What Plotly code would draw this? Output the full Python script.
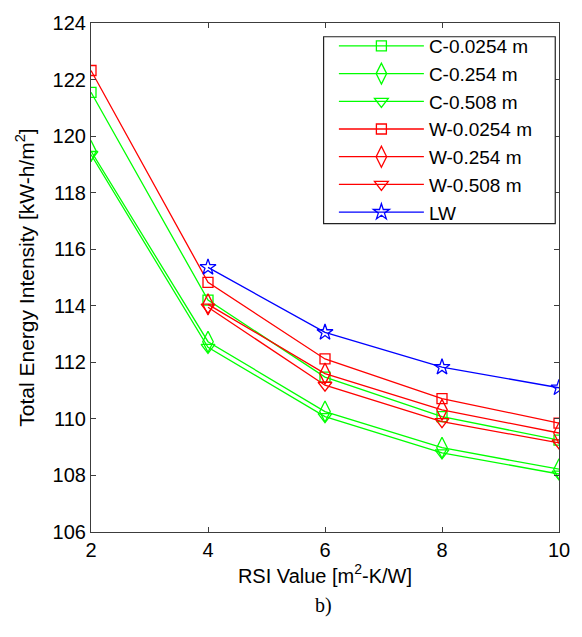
import plotly.graph_objects as go

# RSI values (x) and total energy intensity for each configuration
rsi_all = [2, 4, 6, 8, 10]
rsi_w = [4, 6, 8, 10]

c_0254 = [121.55, 114.2, 111.48, 110.08, 109.25]
c_254 = [119.47, 112.73, 110.26, 108.98, 108.22]
c_508 = [119.35, 112.53, 110.08, 108.8, 108.05]
w_0254 = [122.32, 114.83, 112.12, 110.72, 109.85]
w_254 = [114.05, 111.6, 110.32, 109.5]
w_508 = [113.95, 111.19, 109.9, 109.15]
lw = [115.36, 113.06, 111.83, 111.1]

GREEN = "#00ff00"
RED = "#ff0000"
BLUE = "#0000ff"

series = [
    ("C-0.0254 m", rsi_all, c_0254, GREEN, "square-open", 10),
    ("C-0.254 m", rsi_all, c_254, GREEN, "diamond-tall-open", 15),
    ("C-0.508 m", rsi_all, c_508, GREEN, "triangle-down-open", 12),
    ("W-0.0254 m", rsi_all, w_0254, RED, "square-open", 10),
    ("W-0.254 m", rsi_w, w_254, RED, "diamond-tall-open", 15),
    ("W-0.508 m", rsi_w, w_508, RED, "triangle-down-open", 12),
    ("LW", rsi_w, lw, BLUE, "star-open", 12),
]

fig = go.Figure()
for name, xs, ys, color, symbol, size in series:
    fig.add_trace(go.Scatter(
        x=xs, y=ys, name=name, mode="lines+markers",
        line=dict(color=color, width=1.3),
        marker=dict(symbol=symbol, size=size, color=color,
                    line=dict(color=color, width=1.3)),
    ))

FONT = "Liberation Sans, Arial"
axis_common = dict(
    showgrid=False, zeroline=False, showline=True, linecolor="#3c3c3c",
    linewidth=1.2, mirror="ticks", ticks="inside", ticklen=5,
    tickcolor="#3c3c3c", tickfont=dict(family=FONT, size=20, color="black"),
)

fig.update_xaxes(range=[2, 10], tickvals=[2, 4, 6, 8, 10],
                 title=dict(text="RSI Value [m<sup>2</sup>-K/W]", standoff=8,
                            font=dict(family=FONT, size=20, color="black")),
                 **axis_common)
fig.update_yaxes(range=[106, 124], tickvals=list(range(106, 125, 2)),
                 title=dict(text="Total Energy Intensity [kW-h/m<sup>2</sup>]", standoff=12,
                            font=dict(family=FONT, size=21, color="black")),
                 **axis_common)

fig.add_annotation(text="b)", xref="paper", yref="paper", x=0.497, y=-0.144,
                   xanchor="center", yanchor="middle", showarrow=False,
                   font=dict(family="Liberation Serif, Times New Roman", size=20, color="black"))

# legend frame
fig.add_shape(type="rect", xref="paper", yref="paper",
              x0=0.497, x1=0.992, y0=0.606, y1=0.973,
              line=dict(color="#222222", width=1.2), fillcolor="white", layer="above")

fig.update_layout(
    width=582, height=637,
    margin=dict(l=91, r=14, t=17, b=105),
    paper_bgcolor="white", plot_bgcolor="white",
    legend=dict(x=0.519, y=0.992, xanchor="left", yanchor="top",
                borderwidth=0, bgcolor="rgba(0,0,0,0)",
                itemwidth=85, tracegroupgap=0,
                font=dict(family=FONT, size=19, color="black")),
)

fig.write_html("out.html")
